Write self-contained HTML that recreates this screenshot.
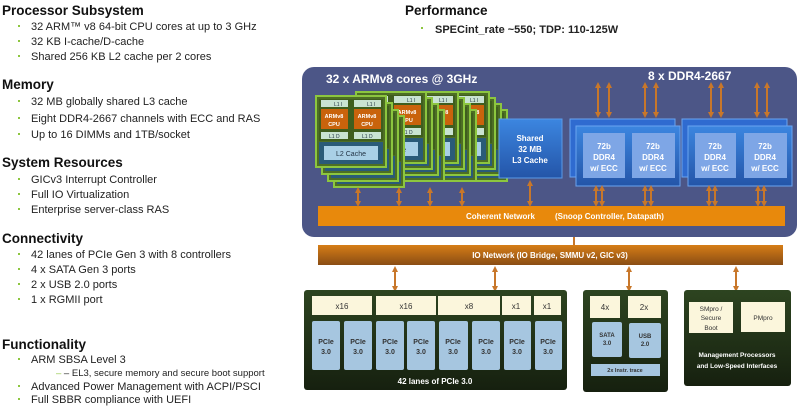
<!DOCTYPE html>
<html><head><meta charset="utf-8"><style>
html,body{margin:0;padding:0;background:#fff;width:801px;height:406px;overflow:hidden}
svg{display:block}
text{font-family:"Liberation Sans",sans-serif}
.h{font-size:13.5px;font-weight:bold;fill:#111}
.b{font-size:11px;fill:#222}
.dot{fill:#8dc63f}
.w{fill:#fff;font-weight:bold}
</style></head><body>
<svg width="801" height="406" viewBox="0 0 801 406" xmlns="http://www.w3.org/2000/svg">
<defs>
<marker id="ah" markerWidth="6" markerHeight="6" refX="3" refY="3" orient="auto-start-reverse" markerUnits="userSpaceOnUse"><path d="M0,0 L6,3 L0,6 z" fill="#c8772a"/></marker>
<linearGradient id="io" x1="0" y1="0" x2="0" y2="1"><stop offset="0" stop-color="#d67d16"/><stop offset="1" stop-color="#8a4d14"/></linearGradient>
<linearGradient id="dg" x1="0" y1="0" x2="0" y2="1"><stop offset="0" stop-color="#2d4420"/><stop offset="1" stop-color="#16200f"/></linearGradient>
<linearGradient id="bl" x1="0" y1="0" x2="0" y2="1"><stop offset="0" stop-color="#3c86e0"/><stop offset="1" stop-color="#2455a8"/></linearGradient>
<g id="card">
<rect x="0" y="0" width="70" height="71" fill="#4d6e24" stroke="#8cc63f" stroke-width="2"/>
<rect x="3" y="3" width="64" height="42" fill="#3f5e1e"/>
<rect x="5" y="4" width="27" height="7" fill="#c9e3d2"/><rect x="38" y="4" width="27" height="7" fill="#c9e3d2"/>
<rect x="5" y="13" width="27" height="20" fill="#c9630c"/><rect x="38" y="13" width="27" height="20" fill="#c9630c"/>
<rect x="5" y="36" width="27" height="7" fill="#c9e3d2"/><rect x="38" y="36" width="27" height="7" fill="#c9e3d2"/>
<rect x="3" y="46" width="64" height="22" fill="#2a5b78"/>
<rect x="8" y="50" width="54" height="14" fill="#a9d0e6"/>
<text x="18" y="10" font-size="5" fill="#234">L1 I</text><text x="51" y="10" font-size="5" fill="#234">L1 I</text>
<text x="18" y="22" font-size="5.5" fill="#fff" font-weight="bold" text-anchor="middle">ARMv8</text><text x="51" y="22" font-size="5.5" fill="#fff" font-weight="bold" text-anchor="middle">ARMv8</text>
<text x="18" y="30" font-size="5.5" fill="#fff" font-weight="bold" text-anchor="middle">CPU</text><text x="51" y="30" font-size="5.5" fill="#fff" font-weight="bold" text-anchor="middle">CPU</text>
<text x="13" y="42" font-size="5" fill="#234">L1 D</text><text x="46" y="42" font-size="5" fill="#234">L1 D</text>
<text x="35" y="60" font-size="7" fill="#234" text-anchor="middle">L2 Cache</text>
</g>
</defs>

<text class="h" x="2" y="15">Processor Subsystem</text>
<g class="b">
<text x="31" y="30">32 ARM™ v8 64-bit CPU cores at up to 3 GHz</text>
<text x="31" y="45">32 KB I-cache/D-cache</text>
<text x="31" y="60">Shared 256 KB L2 cache per 2 cores</text>
</g>
<text class="h" x="2" y="89">Memory</text>
<g class="b">
<text x="31" y="105">32 MB globally shared L3 cache</text>
<text x="31" y="122">Eight DDR4-2667 channels with ECC and RAS</text>
<text x="31" y="138">Up to 16 DIMMs and 1TB/socket</text>
</g>
<text class="h" x="2" y="167">System Resources</text>
<g class="b">
<text x="31" y="183">GICv3 Interrupt Controller</text>
<text x="31" y="198">Full IO Virtualization</text>
<text x="31" y="213">Enterprise server-class RAS</text>
</g>
<text class="h" x="2" y="243">Connectivity</text>
<g class="b">
<text x="31" y="258">42 lanes of PCIe Gen 3 with 8 controllers</text>
<text x="31" y="273">4 x SATA Gen 3 ports</text>
<text x="31" y="288">2 x USB 2.0 ports</text>
<text x="31" y="303">1 x RGMII port</text>
</g>
<text class="h" x="2" y="349">Functionality</text>
<g class="b">
<text x="31" y="363">ARM SBSA Level 3</text>
<text x="56" y="376" font-size="9.5"><tspan fill="#8dc63f">–</tspan> – EL3, secure memory and secure boot support</text>
<text x="31" y="390">Advanced Power Management with ACPI/PSCI</text>
<text x="31" y="403">Full SBBR compliance with UEFI</text>
</g>
<g class="dot">
<rect x="18" y="25" width="2" height="2"/><rect x="18" y="40" width="2" height="2"/><rect x="18" y="55" width="2" height="2"/>
<rect x="18" y="100" width="2" height="2"/><rect x="18" y="117" width="2" height="2"/><rect x="18" y="133" width="2" height="2"/>
<rect x="18" y="178" width="2" height="2"/><rect x="18" y="193" width="2" height="2"/><rect x="18" y="208" width="2" height="2"/>
<rect x="18" y="253" width="2" height="2"/><rect x="18" y="268" width="2" height="2"/><rect x="18" y="283" width="2" height="2"/><rect x="18" y="298" width="2" height="2"/>
<rect x="18" y="358" width="2" height="2"/><rect x="18" y="385" width="2" height="2"/><rect x="18" y="398" width="2" height="2"/>
</g>

<text class="h" x="405" y="15">Performance</text>
<rect x="421" y="27" width="2" height="2" class="dot"/>
<text x="435" y="33" font-size="11" font-weight="bold" fill="#222">SPECint_rate ~550; TDP: 110-125W</text>

<rect x="302" y="67" width="495" height="170" rx="12" fill="#4c5687"/>
<text x="326" y="83" font-size="12" class="w">32 x ARMv8 cores @ 3GHz</text>
<text x="648" y="80" font-size="12" class="w">8 x DDR4-2667</text>

<g>
<use href="#card" x="437" y="110"/><use href="#card" x="431" y="104"/><use href="#card" x="425" y="98"/><use href="#card" x="419" y="92"/>
<use href="#card" x="406" y="110"/><use href="#card" x="400" y="104"/><use href="#card" x="394" y="98"/><use href="#card" x="388" y="92"/>
<use href="#card" x="374" y="110"/><use href="#card" x="368" y="104"/><use href="#card" x="362" y="98"/><use href="#card" x="356" y="92"/>
<use href="#card" x="334" y="116"/><use href="#card" x="328" y="110"/><use href="#card" x="322" y="103"/><use href="#card" x="316" y="96"/>
</g>

<rect x="499" y="119" width="63" height="59" fill="url(#bl)" stroke="#5a9ae8" stroke-width="1"/>
<text x="530" y="141" font-size="8" class="w" text-anchor="middle">Shared</text>
<text x="530" y="152" font-size="8" class="w" text-anchor="middle">32 MB</text>
<text x="530" y="163" font-size="8" class="w" text-anchor="middle">L3 Cache</text>

<g stroke="#6aa4f0" stroke-width="1">
<rect x="570" y="119" width="105" height="58" fill="#2f6bd0"/>
<rect x="576" y="126" width="104" height="60" fill="url(#bl)"/>
<rect x="682" y="119" width="105" height="58" fill="#2f6bd0"/>
<rect x="688" y="126" width="104" height="60" fill="url(#bl)"/>
</g>
<g fill="#7ea6e6">
<rect x="583" y="133" width="42" height="45"/><rect x="632" y="133" width="43" height="45"/>
<rect x="695" y="133" width="41" height="45"/><rect x="744" y="133" width="43" height="45"/>
</g>
<g font-size="8" class="w" text-anchor="middle">
<text x="604" y="149">72b</text><text x="604" y="160">DDR4</text><text x="604" y="171">w/ ECC</text>
<text x="653" y="149">72b</text><text x="653" y="160">DDR4</text><text x="653" y="171">w/ ECC</text>
<text x="715" y="149">72b</text><text x="715" y="160">DDR4</text><text x="715" y="171">w/ ECC</text>
<text x="765" y="149">72b</text><text x="765" y="160">DDR4</text><text x="765" y="171">w/ ECC</text>
</g>

<rect x="318" y="206" width="467" height="20" fill="#e8890c"/>
<text x="466" y="219" font-size="8" class="w">Coherent Network</text>
<text x="555" y="219" font-size="8" class="w">(Snoop Controller, Datapath)</text>

<g stroke="#c8772a" stroke-width="2" marker-start="url(#ah)" marker-end="url(#ah)">
<line x1="598" y1="85" x2="598" y2="115"/><line x1="609" y1="85" x2="609" y2="115"/>
<line x1="645" y1="85" x2="645" y2="115"/><line x1="656" y1="85" x2="656" y2="115"/>
<line x1="711" y1="85" x2="711" y2="115"/><line x1="721" y1="85" x2="721" y2="115"/>
<line x1="757" y1="85" x2="757" y2="115"/><line x1="767" y1="85" x2="767" y2="115"/>
<line x1="358" y1="190" x2="358" y2="204"/><line x1="399" y1="190" x2="399" y2="204"/>
<line x1="430" y1="190" x2="430" y2="204"/><line x1="462" y1="190" x2="462" y2="204"/>
<line x1="530" y1="183" x2="530" y2="204"/>
<line x1="596" y1="188" x2="596" y2="204"/><line x1="602" y1="188" x2="602" y2="204"/>
<line x1="645" y1="188" x2="645" y2="204"/><line x1="651" y1="188" x2="651" y2="204"/>
<line x1="709" y1="188" x2="709" y2="204"/><line x1="715" y1="188" x2="715" y2="204"/>
<line x1="758" y1="188" x2="758" y2="204"/><line x1="764" y1="188" x2="764" y2="204"/>
<line x1="395" y1="269" x2="395" y2="289"/><line x1="495" y1="269" x2="495" y2="289"/>
<line x1="629" y1="269" x2="629" y2="289"/><line x1="736" y1="269" x2="736" y2="289"/>
</g>
<line x1="574" y1="237" x2="574" y2="245" stroke="#c8772a" stroke-width="2"/>

<rect x="318" y="245" width="465" height="20" fill="url(#io)"/>
<text x="550" y="258" font-size="8" class="w" text-anchor="middle">IO Network  (IO Bridge, SMMU v2, GIC v3)</text>

<rect x="304" y="290" width="263" height="100" rx="3" fill="url(#dg)"/>
<g fill="#fbf6dc">
<rect x="312" y="296" width="60" height="19"/><rect x="376" y="296" width="60" height="19"/>
<rect x="438" y="296" width="62" height="19"/><rect x="502" y="296" width="29" height="19"/><rect x="534" y="296" width="27" height="19"/>
</g>
<g font-size="8" fill="#333" text-anchor="middle">
<text x="342" y="309">x16</text><text x="406" y="309">x16</text><text x="469" y="309">x8</text><text x="516" y="309">x1</text><text x="547" y="309">x1</text>
</g>
<g fill="#a6c6e0">
<rect x="312" y="321" width="28" height="49" rx="2"/><rect x="344" y="321" width="28" height="49" rx="2"/>
<rect x="376" y="321" width="28" height="49" rx="2"/><rect x="407" y="321" width="28" height="49" rx="2"/>
<rect x="439" y="321" width="29" height="49" rx="2"/><rect x="472" y="321" width="28" height="49" rx="2"/>
<rect x="504" y="321" width="27" height="49" rx="2"/><rect x="535" y="321" width="27" height="49" rx="2"/>
</g>
<g font-size="7" fill="#333" font-weight="bold" text-anchor="middle">
<text x="326" y="344">PCIe</text><text x="326" y="354">3.0</text>
<text x="358" y="344">PCIe</text><text x="358" y="354">3.0</text>
<text x="390" y="344">PCIe</text><text x="390" y="354">3.0</text>
<text x="421" y="344">PCIe</text><text x="421" y="354">3.0</text>
<text x="453" y="344">PCIe</text><text x="453" y="354">3.0</text>
<text x="486" y="344">PCIe</text><text x="486" y="354">3.0</text>
<text x="517" y="344">PCIe</text><text x="517" y="354">3.0</text>
<text x="548" y="344">PCIe</text><text x="548" y="354">3.0</text>
</g>
<text x="435" y="384" font-size="8" class="w" text-anchor="middle">42 lanes of PCIe 3.0</text>

<rect x="583" y="290" width="85" height="102" rx="3" fill="url(#dg)"/>
<rect x="590" y="296" width="30" height="22" fill="#fbf6dc"/><rect x="628" y="296" width="33" height="22" fill="#fbf6dc"/>
<text x="605" y="310" font-size="8" fill="#333" text-anchor="middle">4x</text><text x="644" y="310" font-size="8" fill="#333" text-anchor="middle">2x</text>
<rect x="592" y="322" width="30" height="35" rx="2" fill="#a6c6e0"/><rect x="629" y="323" width="32" height="35" rx="2" fill="#a6c6e0"/>
<g font-size="6" fill="#333" font-weight="bold" text-anchor="middle">
<text x="607" y="337">SATA</text><text x="607" y="345">3.0</text>
<text x="645" y="338">USB</text><text x="645" y="346">2.0</text>
</g>
<rect x="591" y="364" width="69" height="12" fill="#a6c6e0"/>
<text x="625" y="372" font-size="5.5" fill="#333" font-weight="bold" text-anchor="middle">2x Instr. trace</text>

<rect x="684" y="290" width="107" height="96" rx="3" fill="url(#dg)"/>
<rect x="689" y="302" width="44" height="31" fill="#fbf6dc"/><rect x="741" y="302" width="44" height="30" fill="#fbf6dc"/>
<g font-size="6.5" fill="#333" text-anchor="middle">
<text x="711" y="311">SMpro /</text><text x="711" y="320">Secure</text><text x="711" y="330">Boot</text>
<text x="763" y="320">PMpro</text>
</g>
<text x="737" y="357" font-size="6.5" class="w" text-anchor="middle">Management Processors</text>
<text x="737" y="368" font-size="6.5" class="w" text-anchor="middle">and Low-Speed Interfaces</text>
</svg>
</body></html>
